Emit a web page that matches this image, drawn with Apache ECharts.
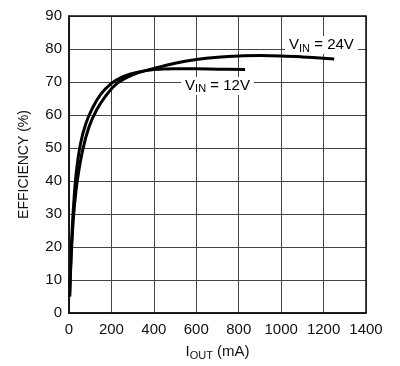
<!DOCTYPE html>
<html><head><meta charset="utf-8">
<script src="https://cdn.jsdelivr.net/npm/echarts@6/dist/echarts.min.js"></script>
<style>html,body{margin:0;padding:0;background:#fff}#c{width:400px;height:366px}</style>
</head><body><div id="c"></div>
<script>
const xTicks = [0, 200, 400, 600, 800, 1000, 1200, 1400];
const yTicks = [0, 10, 20, 30, 40, 50, 60, 70, 80, 90];
const vin12 = [[3,5],[8,15],[14,24],[22,33],[35,43],[55,51.5],[80,57.5],[110,62],[150,66.3],[200,69.6],[250,71.5],[300,72.6],[350,73.3],[400,73.8],[500,74],[600,74],[700,73.9],[830,73.8]];
const vin24 = [[3,5],[9,15],[16,24],[25,32],[40,40.5],[65,49.5],[95,56.5],[130,61.5],[170,65.5],[225,69.5],[300,72.2],[400,74.1],[500,75.7],[600,76.8],[700,77.5],[800,77.9],[900,78],[1000,77.9],[1100,77.6],[1250,77]];
const lbl12 = [700, 68.8];
const lbl24 = [1190, 81.2];
const F = '"Liberation Sans", Arial, sans-serif';
const chart = echarts.init(document.getElementById('c'));
const rich = {
  v: {fontFamily: F, fontSize: 15, color: '#111'},
  s: {fontFamily: F, fontSize: 11, color: '#111', padding: [7,0,0,0]}
};
chart.setOption({
  animation: false,
  grid: {left: 69, right: 34, top: 16, bottom: 53},
  xAxis: {type: 'value', min: 0, max: 1400, interval: 200,
    name: '{v|I}{s|OUT}{v| (mA)}', nameLocation: 'middle', nameGap: 30,
    nameTextStyle: {rich: rich},
    axisLine: {show: true, lineStyle: {color: '#111', width: 1.5}},
    axisTick: {show: false},
    axisLabel: {fontFamily: F, fontSize: 15, color: '#111', margin: 9, formatter: v => String(v)},
    splitLine: {show: true, lineStyle: {color: '#444', width: 1}}},
  yAxis: {type: 'value', min: 0, max: 90, interval: 10,
    name: 'EFFICIENCY (%)', nameLocation: 'middle', nameGap: 38,
    nameTextStyle: {fontFamily: F, fontSize: 14, color: '#111'},
    axisLine: {show: true, lineStyle: {color: '#111', width: 1.5}},
    axisTick: {show: false},
    axisLabel: {fontFamily: F, fontSize: 15, color: '#111', margin: 7, formatter: v => String(v)},
    splitLine: {show: true, lineStyle: {color: '#444', width: 1}}},
  series: [
    {type: 'line', data: vin12, smooth: 0.4, showSymbol: false, lineStyle: {color: '#000', width: 3}, z: 5},
    {type: 'line', data: vin24, smooth: 0.4, showSymbol: false, lineStyle: {color: '#000', width: 3}, z: 5}
  ]
});
function lab(coord, name) {
  const p = chart.convertToPixel({gridIndex: 0}, coord);
  return {type: 'text', x: p[0], y: p[1], z: 20, silent: true,
    style: {text: '{v|V}{s|IN}{v| = ' + name + '}', rich: rich, align: 'center', verticalAlign: 'middle',
      backgroundColor: '#fff', padding: [0, 4]}};
}
const tl = chart.convertToPixel({gridIndex: 0}, [0, 90]);
const br = chart.convertToPixel({gridIndex: 0}, [1400, 0]);
chart.setOption({graphic: [
  {type: 'rect', shape: {x: tl[0], y: tl[1], width: br[0]-tl[0], height: br[1]-tl[1]}, style: {fill: 'none', stroke: '#111', lineWidth: 1.5}, z: 10, silent: true},
  lab(lbl12, '12V'), lab(lbl24, '24V')
]});
</script></body></html>
